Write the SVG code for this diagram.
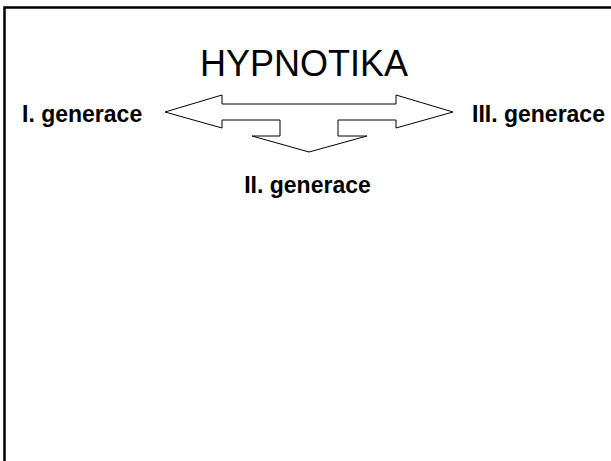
<svg xmlns="http://www.w3.org/2000/svg" width="611" height="461" viewBox="0 0 611 461">
<style>
.lbl{font-family:"Liberation Sans",Arial,sans-serif;font-weight:bold;font-size:23px;fill:#000}
.ttl{font-family:"Liberation Sans",Arial,sans-serif;font-size:36px;fill:#000}
.arr{fill:#fff;stroke:#000;stroke-width:1}
</style>
<rect x="0" y="0" width="611" height="461" fill="#fff"/>
<rect x="4.5" y="7.5" width="620" height="470" fill="none" stroke="#000" stroke-width="2.5"/>
<g id="title"><text class="ttl" x="304" y="76" text-anchor="middle">HYPNOTIKA</text></g>
<g id="connectors">
<path class="arr" d="M165,112 L222,95 L222,104 L396,104 L396,95 L453,112 L396,128 L396,120 L338,120 L338,136 L367,136 L309,152 L252,136 L280,136 L280,120 L222,120 L222,128 Z"/>
</g>
<g id="gen1"><text class="lbl" x="22" y="122">I. generace</text></g>
<g id="gen3"><text class="lbl" x="472" y="122">III. generace</text></g>
<g id="gen2"><text class="lbl" x="307.5" y="193" text-anchor="middle">II. generace</text></g>
</svg>
